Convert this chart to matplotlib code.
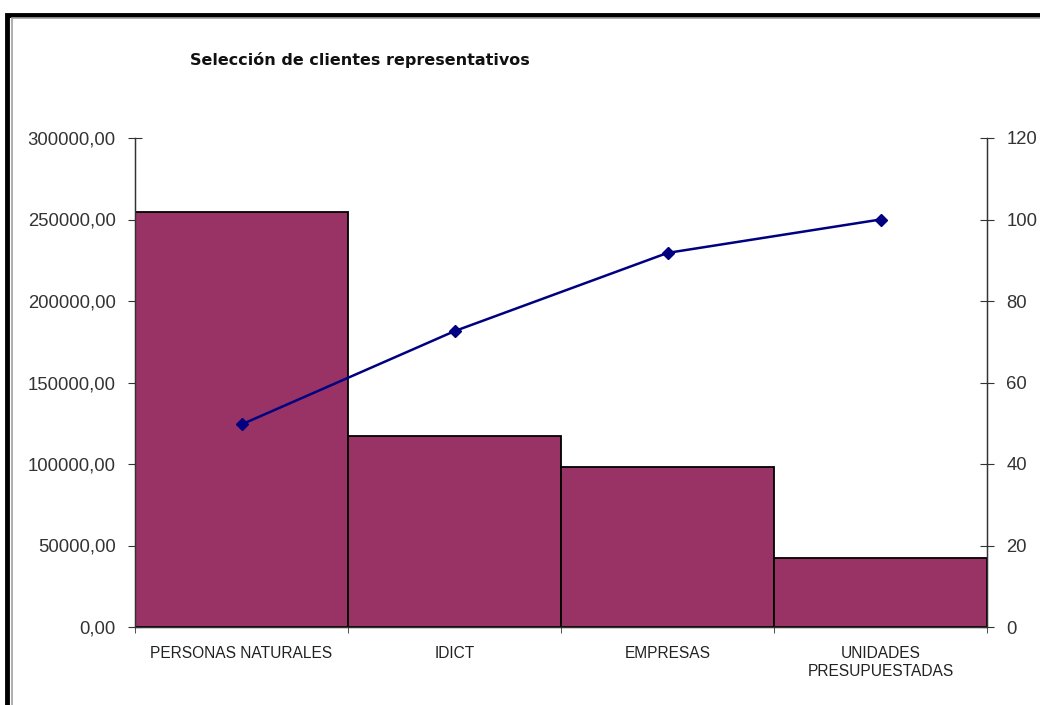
import matplotlib
matplotlib.use("Agg")
import matplotlib.pyplot as plt
from matplotlib.patches import Rectangle
from matplotlib.ticker import FuncFormatter

categorias = ["PERSONAS NATURALES", "IDICT", "EMPRESAS", "UNIDADES\nPRESUPUESTADAS"]
importes = [254600.0, 117200.0, 98100.0, 42300.0]
acumulado = [49.7, 72.6, 91.8, 100.0]

plt.rcParams['font.family'] = ['Liberation Sans', 'DejaVu Sans']

fig = plt.figure(figsize=(10.4, 7.05), dpi=100)
fig.patch.set_facecolor('white')

# window frame (left and top edges)
fig.patches.append(Rectangle((7/1040, -0.1), 1.2, (705-15)/705 + 0.1, transform=fig.transFigure,
                             fill=False, edgecolor='black', linewidth=3.5, zorder=0))
fig.patches.append(Rectangle((12/1040, -0.1), 1.2, (705-18)/705 + 0.1, transform=fig.transFigure,
                             fill=False, edgecolor='#a0a0a0', linewidth=1.2, zorder=0))

ax = fig.add_axes([135/1040, 78/705, 852/1040, 489/705])
pos = list(range(len(categorias)))
ax.bar(pos, importes, width=1.0, color='#993366', edgecolor='black', linewidth=1.3, zorder=2)
ax.set_xlim(-0.5, len(categorias) - 0.5)
ax.set_ylim(0, 300000)
ax.set_yticks([0, 50000, 100000, 150000, 200000, 250000, 300000])
ax.yaxis.set_major_formatter(FuncFormatter(lambda v, p: f"{v:.2f}".replace('.', ',')))
ax.set_xticks(pos)
ax.set_xticklabels(categorias, fontsize=11.2, color='#222222', linespacing=1.25)
ax.set_xticks([p - 0.5 for p in pos] + [len(categorias) - 0.5], minor=True)
ax.tick_params(axis='x', which='major', length=0, pad=14)
ax.tick_params(axis='x', which='minor', length=8, direction='inout', color='#333333')
ax.tick_params(axis='y', length=10, direction='inout', labelsize=13.3, labelcolor='#333333',
               color='#333333', pad=9)
ax.spines['top'].set_visible(False)
for s in ['left', 'right', 'bottom']:
    ax.spines[s].set_color('#333333')
    ax.spines[s].set_linewidth(1.0)

ax2 = ax.twinx()
ax2.plot(pos, acumulado, color='#000080', linewidth=1.8, marker='D', markersize=6,
         markerfacecolor='#000080', markeredgecolor='#000080', zorder=3)
ax2.set_ylim(0, 120)
ax2.set_yticks([0, 20, 40, 60, 80, 100, 120])
ax2.tick_params(axis='y', length=10, direction='inout', labelsize=13.3, labelcolor='#333333',
                color='#333333', pad=9)
ax2.spines['top'].set_visible(False)
for s in ['left', 'right', 'bottom']:
    ax2.spines[s].set_color('#333333')

fig.text(190/1040, 1 - 60/705, "Selección de clientes representativos", fontsize=11.5,
         fontweight='bold', family='DejaVu Sans', ha='left', va='center', color='#111111')

fig.savefig("out.png", dpi=100)
